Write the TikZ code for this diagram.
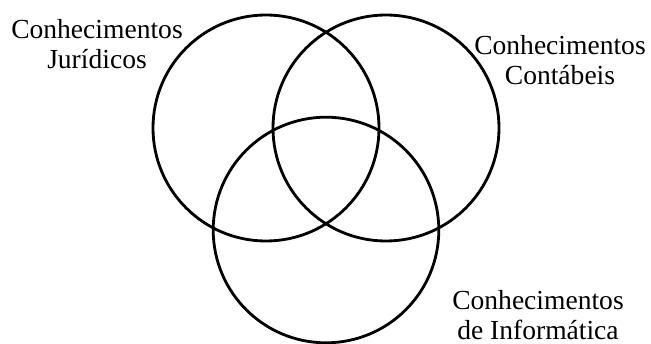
\documentclass[tikz,border=0pt]{standalone}
\usepackage{fontspec}
\setmainfont{Liberation Serif}

\begin{document}
\begin{tikzpicture}[line cap=round,line join=round,
  conjunto/.style={line width=2pt},
  rotulo/.style={align=center,inner sep=0pt,font=\fontsize{19.6}{21.3}\selectfont}]
  \useasboundingbox (0,0) rectangle (16.275,8.6);
  \draw[conjunto] (6.65,5.40) circle (2.825);
  \draw[conjunto] (9.65,5.40) circle (2.825);
  \draw[conjunto] (8.15,2.85) circle (2.82);
  \node[rotulo] (juridicos) at (2.425,7.5) {Conhecimentos\\Jurídicos};
  \node[rotulo] (contabeis) at (14.0,7.1) {Conhecimentos\\Contábeis};
  \node[rotulo] (informatica) at (13.45,0.725) {Conhecimentos\\de Informática};
\end{tikzpicture}
\end{document}
